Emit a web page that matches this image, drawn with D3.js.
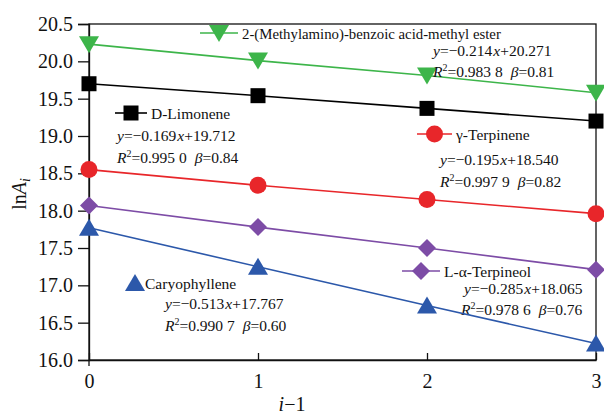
<!DOCTYPE html>
<html><head><meta charset="utf-8">
<script src="https://cdn.jsdelivr.net/npm/d3@7"></script>
<style>body{margin:0;background:#fff}svg{display:block}</style>
</head><body><svg id="c" width="604" height="418"></svg>
<script>
const xCats = [0, 1, 2, 3];
const yTicks = [16.0, 16.5, 17.0, 17.5, 18.0, 18.5, 19.0, 19.5, 20.0, 20.5];
const seriesNames = ["2-(Methylamino)-benzoic acid-methyl ester", "D-Limonene", "γ-Terpinene", "L-α-Terpineol", "Caryophyllene"];
const esterVals = [20.23, 20.01, 19.81, 19.58];
const limoneneVals = [19.70, 19.54, 19.37, 19.20];
const terpineneVals = [18.55, 18.34, 18.15, 17.96];
const terpineolVals = [18.07, 17.78, 17.50, 17.21];
const caryoVals = [17.77, 17.25, 16.73, 16.22];
const eqTexts = [["−0.214", "20.271", "0.983 8", "0.81"], ["−0.169", "19.712", "0.995 0", "0.84"], ["−0.195", "18.540", "0.997 9", "0.82"], ["−0.285", "18.065", "0.978 6", "0.76"], ["−0.513", "17.767", "0.990 7", "0.60"]];

const FONT = "Liberation Serif";
const series = [
  {name: seriesNames[0], vals: esterVals, color: "#3db54a", sym: "tri-down", leg: [200, 33, 242], fs: 14.8, eq: [433, 51, 433, 72]},
  {name: seriesNames[1], vals: limoneneVals, color: "#000000", sym: "square", leg: [115, 113, 151], fs: 15.5, eq: [117, 136, 117, 158]},
  {name: seriesNames[2], vals: terpineneVals, color: "#e8262a", sym: "circle", leg: [417, 134, 456], fs: 15.5, eq: [440, 160, 440, 182]},
  {name: seriesNames[3], vals: terpineolVals, color: "#7d4ca6", sym: "diamond", leg: [402, 271, 444], fs: 15.5, eq: [464, 289, 461, 310]},
  {name: seriesNames[4], vals: caryoVals, color: "#2c58aa", sym: "tri-up", leg: [null, 283, 145], fs: 15.5, eq: [165, 304, 165, 326]}
];

const svg = d3.select("#c");
const L = 89, R = 596, T = 24, B = 360;
const x = d3.scaleLinear().domain([0, 3]).range([L, R]);
const y = d3.scaleLinear().domain([16, 20.5]).range([B, T]);

svg.append("rect").attr("x", L).attr("y", T).attr("width", R - L).attr("height", B - T)
  .attr("fill", "none").attr("stroke", "#111").attr("stroke-width", 1.3);

const yAx = svg.append("g").attr("transform", `translate(${L},0)`)
  .call(d3.axisLeft(y).tickValues(yTicks).tickFormat(d3.format(".1f")).tickSize(11).tickPadding(5));
const xAx = svg.append("g").attr("transform", `translate(0,${B})`)
  .call(d3.axisBottom(x).tickValues(xCats).tickFormat(d3.format("d")).tickSizeInner(-7).tickSizeOuter(0).tickPadding(14));
[yAx, xAx].forEach(g => {
  g.attr("font-family", FONT).attr("font-size", 20);
  g.select(".domain").attr("stroke", "#111").attr("stroke-width", 1.3);
  g.selectAll(".tick line").attr("stroke", "#111").attr("stroke-width", 1.3);
  g.selectAll("text").attr("fill", "#111").attr("font-family", FONT).attr("font-size", 20);
});
svg.append("line").attr("x1", L).attr("x2", L).attr("y1", B).attr("y2", B + 6).attr("stroke", "#111").attr("stroke-width", 1.3);

function symbol(g, type, cx, cy, color) {
  let s;
  if (type === "square") s = g.append("rect").attr("x", cx - 7.5).attr("y", cy - 7.5).attr("width", 15).attr("height", 15);
  else if (type === "circle") s = g.append("circle").attr("cx", cx).attr("cy", cy).attr("r", 8.5);
  else if (type === "diamond") s = g.append("path").attr("d", `M${cx},${cy - 9}L${cx + 9},${cy}L${cx},${cy + 9}L${cx - 9},${cy}Z`);
  else if (type === "tri-down") s = g.append("path").attr("d", `M${cx - 10},${cy - 8}L${cx + 10},${cy - 8}L${cx},${cy + 9}Z`);
  else s = g.append("path").attr("d", `M${cx - 10},${cy + 8}L${cx + 10},${cy + 8}L${cx},${cy - 9}Z`);
  s.attr("fill", color);
}

function txt(g, xx, yy, size) {
  return g.append("text").attr("x", xx).attr("y", yy).attr("font-size", size).attr("font-family", FONT).attr("fill", "#111");
}

const line = d3.line().x((d, i) => x(xCats[i])).y(d => y(d));
series.forEach((s, k) => {
  const g = svg.append("g");
  g.append("path").attr("d", line(s.vals)).attr("fill", "none").attr("stroke", s.color).attr("stroke-width", 1.6);
  s.vals.forEach((v, i) => symbol(g, s.sym, x(xCats[i]), y(v), s.color));
  const [lx, ly, tx] = s.leg;
  if (lx !== null) {
    g.append("line").attr("x1", lx).attr("x2", tx - 4).attr("y1", ly).attr("y2", ly).attr("stroke", s.color).attr("stroke-width", 1.6);
    symbol(g, s.sym, (lx + tx - 4) / 2, ly, s.color);
  } else {
    symbol(g, s.sym, tx - 10, ly, s.color);
  }
  txt(g, tx, ly + 5.5, s.fs).text(s.name);
  const [ex, ey, rx, ry] = s.eq;
  const e = eqTexts[k];
  const t1 = txt(g, ex, ey + 5, 15.5);
  t1.append("tspan").attr("font-style", "italic").text("y");
  t1.append("tspan").text("=" + e[0]);
  t1.append("tspan").attr("font-style", "italic").attr("dx", 1).text("x");
  t1.append("tspan").text("+" + e[1]);
  const t2 = txt(g, rx, ry + 5, 15.5);
  t2.append("tspan").attr("font-style", "italic").text("R");
  t2.append("tspan").attr("font-size", 10).attr("dy", -6).text("2");
  t2.append("tspan").attr("dy", 6).text("=" + e[2]);
  t2.append("tspan").attr("dx", 8).attr("font-style", "italic").text("β");
  t2.append("tspan").text("=" + e[3]);
});

const yt = svg.append("text").attr("transform", "translate(26,194) rotate(-90)").attr("text-anchor", "middle")
  .attr("font-size", 20).attr("font-family", FONT).attr("fill", "#111");
yt.append("tspan").text("ln");
yt.append("tspan").attr("font-style", "italic").text("A");
yt.append("tspan").attr("font-style", "italic").attr("font-size", 14).attr("dy", 4).text("i");
const xt = txt(svg, 292, 411, 20).attr("text-anchor", "middle");
xt.append("tspan").attr("font-style", "italic").text("i");
xt.append("tspan").text("−1");
</script></body></html>
